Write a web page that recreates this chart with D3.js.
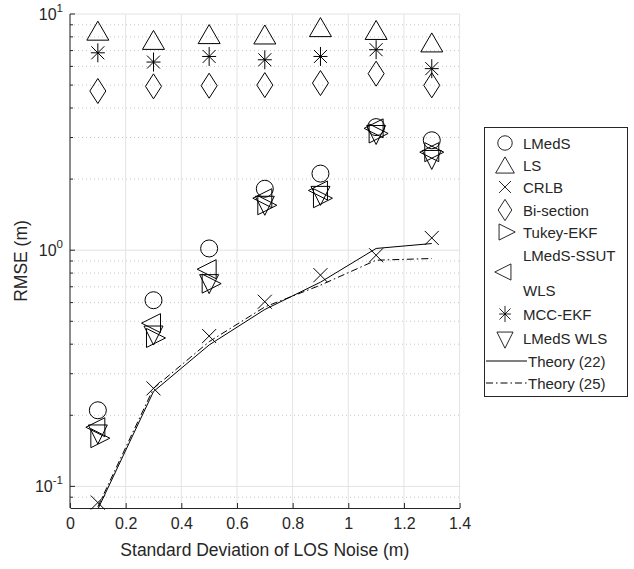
<!DOCTYPE html>
<html>
<head>
<meta charset="utf-8">
<script src="https://cdn.jsdelivr.net/npm/d3@7"></script>
<style>
  body { margin: 0; background: #fff; }
  text { font-family: "Liberation Sans", Arial, Helvetica, sans-serif; fill: #262626; }
</style>
</head>
<body>
<svg id="chart" width="634" height="569"></svg>
<script>
const xs = [0.1, 0.3, 0.5, 0.7, 0.9, 1.1, 1.3];
const lmeds = [0.21, 0.614, 1.017, 1.82, 2.11, 3.32, 2.92];
const ls = [8.5, 7.77, 8.22, 8.19, 8.8, 8.56, 7.58];
const crlb = [0.0854, 0.26, 0.433, 0.605, 0.784, 0.952, 1.127];
const bisection = [4.72, 4.94, 4.97, 5.0, 5.1, 5.59, 4.99];
const tukeyEkf = [0.16, 0.425, 0.722, 1.55, 1.66, 3.12, 2.6];
const lmedsSsut = [0.178, 0.491, 0.831, 1.66, 1.79, 3.28, 2.6];
const mccEkf = [6.85, 6.26, 6.61, 6.4, 6.61, 7.06, 5.87];
const lmedsWls = [0.17, 0.446, 0.736, 1.58, 1.74, 3.15, 2.47];
const theory22 = [0.08, 0.252, 0.397, 0.561, 0.732, 1.017, 1.067];
const theory25 = [0.082, 0.26, 0.41, 0.575, 0.711, 0.907, 0.922];

const xTicks = [0, 0.2, 0.4, 0.6, 0.8, 1, 1.2, 1.4];
const xTickLabels = ["0", "0.2", "0.4", "0.6", "0.8", "1", "1.2", "1.4"];
const yDecades = [0.1, 1, 10];
const yExps = ["-1", "0", "1"];

const xLabel = "Standard Deviation of LOS Noise (m)";
const yLabel = "RMSE (m)";

const svg = d3.select("#chart");
const L = 70, R = 459.6, T = 14, B = 508;
const x = d3.scaleLinear().domain([0, 1.4]).range([L, R]);
const y = d3.scaleLog().domain([0.081, 10]).range([B, T]);

// grid
const g = svg.append("g");
xTicks.forEach(t => {
  g.append("line").attr("x1", x(t)).attr("x2", x(t)).attr("y1", T).attr("y2", B)
    .attr("stroke", "#e3e3e3").attr("stroke-width", 1);
});
const minors = [];
[0.01, 0.1, 1].forEach(d => { for (let k = 2; k <= 9; k++) { const v = d * k; if (v >= 0.081 && v <= 10) minors.push(v); } });
minors.forEach(v => {
  g.append("line").attr("x1", L).attr("x2", R).attr("y1", y(v)).attr("y2", y(v))
    .attr("stroke", "#c8c8c8").attr("stroke-width", 1).attr("stroke-dasharray", "1,3");
});
yDecades.forEach(v => {
  g.append("line").attr("x1", L).attr("x2", R).attr("y1", y(v)).attr("y2", y(v))
    .attr("stroke", "#e3e3e3").attr("stroke-width", 1);
});

// axes
const xAxis = d3.axisBottom(x).tickValues(xTicks).tickFormat((d, i) => xTickLabels[i]).tickSizeInner(-5).tickSizeOuter(0).tickPadding(10);
const xa = svg.append("g").attr("transform", `translate(0,${B})`).call(xAxis);
xa.select(".domain").attr("stroke", "#262626");
xa.selectAll(".tick line").attr("stroke", "#262626");
xa.selectAll("text").attr("font-size", 16).attr("fill", "#262626").attr("font-family", "Liberation Sans, Arial, sans-serif");

const ya = svg.append("g").attr("transform", `translate(${L},0)`);
ya.append("line").attr("x1", 0).attr("x2", 0).attr("y1", T).attr("y2", B).attr("stroke", "#262626");
yDecades.forEach((v, i) => {
  ya.append("line").attr("x1", 0).attr("x2", 5).attr("y1", y(v)).attr("y2", y(v)).attr("stroke", "#262626");
  const t = ya.append("text").attr("x", -7).attr("y", y(v) + 6).attr("text-anchor", "end").attr("font-size", 16);
  t.append("tspan").text("10");
  t.append("tspan").attr("dy", -8).attr("font-size", 11.5).text(yExps[i]);
});
minors.forEach(v => {
  ya.append("line").attr("x1", 0).attr("x2", 3).attr("y1", y(v)).attr("y2", y(v)).attr("stroke", "#262626");
});

svg.append("text").attr("x", (L + R) / 2).attr("y", 556).attr("text-anchor", "middle").attr("font-size", 17.5).text(xLabel);
svg.append("text").attr("transform", `translate(27,${(T + B) / 2}) rotate(-90)`).attr("text-anchor", "middle").attr("font-size", 17.5).text(yLabel);

// marker shapes
function markerPath(type) {
  switch (type) {
    case "circle": return "M8.5,0A8.5,8.5 0 1,1 -8.5,0A8.5,8.5 0 1,1 8.5,0Z";
    case "up": return "M0,-9.5L11,9.5L-11,9.5Z";
    case "down": return "M0,12L-9.5,-7L9.5,-7Z";
    case "right": return "M12,0L-7,-9.5L-7,9.5Z";
    case "left": return "M-12,0L7,-9.5L7,9.5Z";
    case "x": return "M-7,-7L7,7M-7,7L7,-7";
    case "diamond": return "M0,-12.5L8,0L0,12.5L-8,0Z";
    case "star": return "M0,-9.5L0,9.5M-7,0L7,0M-6.5,-6.5L6.5,6.5M-6.5,6.5L6.5,-6.5";
  }
}
function drawMarkers(values, type) {
  svg.append("g").selectAll("path").data(values).join("path")
    .attr("d", markerPath(type))
    .attr("transform", (d, i) => `translate(${x(xs[i])},${y(d)})`)
    .attr("fill", "none").attr("stroke", "#000").attr("stroke-width", 1);
}

// lines (clipped)
svg.append("clipPath").attr("id", "clip").append("rect").attr("x", L).attr("y", T).attr("width", R - L).attr("height", B - T);
const line = d3.line().x((d, i) => x(xs[i])).y(d => y(d));
svg.append("path").datum(theory22).attr("d", line).attr("clip-path", "url(#clip)")
  .attr("fill", "none").attr("stroke", "#000").attr("stroke-width", 1);
svg.append("path").datum(theory25).attr("d", line).attr("clip-path", "url(#clip)")
  .attr("fill", "none").attr("stroke", "#000").attr("stroke-width", 1).attr("stroke-dasharray", "7,3,1.5,3");

drawMarkers(lmeds, "circle");
drawMarkers(ls, "up");
drawMarkers(crlb, "x");
drawMarkers(bisection, "diamond");
drawMarkers(tukeyEkf, "right");
drawMarkers(lmedsSsut, "left");
drawMarkers(mccEkf, "star");
drawMarkers(lmedsWls, "down");

// legend
const lg = svg.append("g");
lg.append("rect").attr("x", 484.5).attr("y", 127.5).attr("width", 143).attr("height", 269)
  .attr("fill", "#fff").attr("stroke", "#262626").attr("stroke-width", 1);
const legendItems = [
  { type: "circle", lines: ["LMedS"], y: 143 },
  { type: "up", lines: ["LS"], y: 165 },
  { type: "x", lines: ["CRLB"], y: 187 },
  { type: "diamond", lines: ["Bi-section"], y: 210 },
  { type: "right", lines: ["Tukey-EKF"], y: 232 },
  { type: "left", lines: ["LMedS-SSUT", "WLS"], y: 272 },
  { type: "star", lines: ["MCC-EKF"], y: 314 },
  { type: "down", lines: ["LMedS WLS"], y: 338 },
  { type: "solid", lines: ["Theory (22)"], y: 361 },
  { type: "dashdot", lines: ["Theory (25)"], y: 383 }
];
const legendFont = 15;
legendItems.forEach(it => {
  if (it.type === "solid" || it.type === "dashdot") {
    lg.append("line").attr("x1", 486).attr("x2", 527).attr("y1", it.y).attr("y2", it.y)
      .attr("stroke", "#000").attr("stroke-width", 1)
      .attr("stroke-dasharray", it.type === "dashdot" ? "7,3,1.5,3" : null);
  } else {
    lg.append("path").attr("d", markerPath(it.type)).attr("transform", `translate(505,${it.y}) scale(0.85)`)
      .attr("fill", "none").attr("stroke", "#000").attr("stroke-width", 1);
  }
  const tx = it.type === "solid" || it.type === "dashdot" ? 528 : 523;
  if (it.lines.length === 1) {
    lg.append("text").attr("x", tx).attr("y", it.y + 5.5).attr("font-size", legendFont).text(it.lines[0]);
  } else {
    lg.append("text").attr("x", tx).attr("y", it.y - 17 + 5.5).attr("font-size", legendFont).text(it.lines[0]);
    lg.append("text").attr("x", tx).attr("y", it.y + 18 + 5.5).attr("font-size", legendFont).text(it.lines[1]);
  }
});
</script>
</body>
</html>
